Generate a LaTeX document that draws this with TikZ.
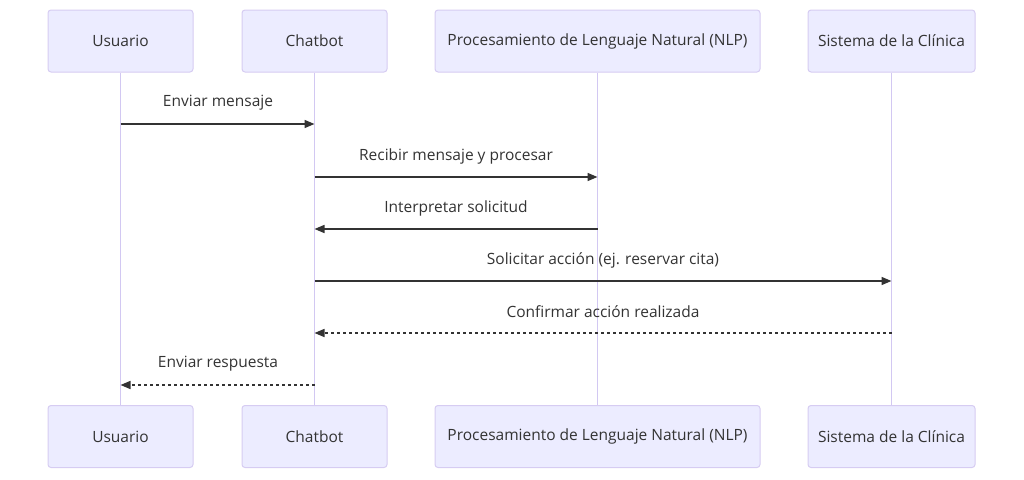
\documentclass[tikz,border=0pt]{standalone}
\usepackage{fontspec}
\setmainfont{Open Sans}
\usetikzlibrary{arrows.meta}
\definecolor{actfill}{HTML}{ECECFF}
\definecolor{actborder}{HTML}{D6CCF2}
\definecolor{lifec}{HTML}{D2C8F2}
\definecolor{txt}{HTML}{333333}
\tikzset{
  actor/.style={draw=actborder, fill=actfill, line width=1pt, rounded corners=3pt,
    minimum height=62pt, inner sep=0pt, text=txt, font=\fontsize{15.5pt}{19pt}\selectfont},
  life/.style={draw=lifec, line width=1.8pt},
  msg/.style={draw=txt, line width=1.5pt, -{Triangle[length=10pt,width=8pt]}},
  reply/.style={msg, dash pattern=on 3pt off 3pt},
  lbl/.style={text=txt, font=\fontsize{15.5pt}{19pt}\selectfont, inner sep=0pt}
}
\begin{document}
\begin{tikzpicture}[x=1pt,y=-1pt]
\useasboundingbox (0,0) rectangle (1024,479);
% top actors
\node[actor, minimum width=145pt] (u) at (120.5,41) {Usuario};
\node[actor, minimum width=145pt] (c) at (314.5,41) {Chatbot};
\node[actor, minimum width=325pt] (n) at (597.5,41) {Procesamiento de Lenguaje Natural (NLP)};
\node[actor, minimum width=167pt] (s) at (891.5,41) {Sistema de la Clínica};
% bottom actors
\node[actor, minimum width=145pt] (u2) at (120.5,436.5) {Usuario};
\node[actor, minimum width=145pt] (c2) at (314.5,436.5) {Chatbot};
\node[actor, minimum width=325pt] (n2) at (597.5,436.5) {Procesamiento de Lenguaje Natural (NLP)};
\node[actor, minimum width=167pt] (s2) at (891.5,436.5) {Sistema de la Clínica};
% lifelines
\draw[life] (u.south) -- (u2.north);
\draw[life] (c.south) -- (c2.north);
\draw[life] (n.south) -- (n2.north);
\draw[life] (s.south) -- (s2.north);
% messages
\draw[msg] (u |- 0,124) -- (c |- 0,124);
\node[lbl] (m1) at (218,103) {Enviar mensaje};
\draw[msg] (c |- 0,177) -- (n |- 0,177);
\node[lbl] (m2) at (456,156) {Recibir mensaje y procesar};
\draw[msg] (n |- 0,229) -- (c |- 0,229);
\node[lbl] (m3) at (456,208) {Interpretar solicitud};
\draw[msg] (c |- 0,281) -- (s |- 0,281);
\node[lbl] (m4) at (603,260) {Solicitar acción (ej. reservar cita)};
\draw[reply] (s |- 0,333) -- (c |- 0,333);
\node[lbl] (m5) at (603,312) {Confirmar acción realizada};
\draw[reply] (c |- 0,385) -- (u |- 0,385);
\node[lbl] (m6) at (218,364) {Enviar respuesta};
\end{tikzpicture}
\end{document}
